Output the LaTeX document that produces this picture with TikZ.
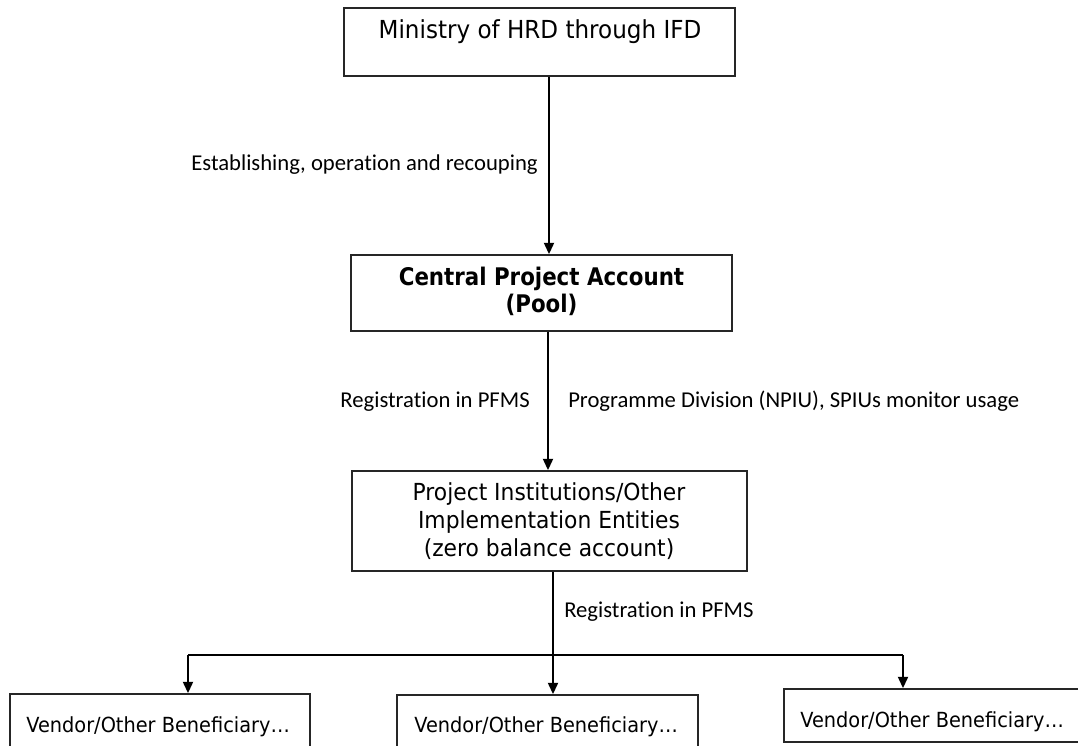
\documentclass[tikz,border=0pt]{standalone}
\usepackage{fontspec}
\setmainfont[Ligatures=NoCommon]{Carlito}
\newfontfamily\boxfont[FakeStretch=0.93,BoldFeatures={FakeStretch=0.88}]{DejaVu Sans}
\usetikzlibrary{arrows.meta}
\begin{document}
\begin{tikzpicture}[x=0.75pt,y=-0.75pt,
  boxshape/.style={draw=black!85,line width=1.3pt,rectangle,inner sep=0pt},
  boxtext/.style={font=\boxfont\fontsize{18.6}{22}\selectfont,inner sep=0pt},
  smalltext/.style={font=\boxfont\fontsize{15.6}{19}\selectfont,inner sep=0pt},
  lbl/.style={font=\fontsize{17}{20}\selectfont,inner sep=0pt},
  arr/.style={line width=1.5pt,-{Triangle[width=7.5pt,length=8.5pt]}},
  plain/.style={line width=1.5pt}]
\useasboundingbox[fill=white] (0,0) rectangle (1078,746);
\begin{scope}
\clip (0,0) rectangle (1078,746);
% boxes
\node[boxshape,minimum width=391*0.75pt,minimum height=68*0.75pt] (b1) at (539.5,42) {};
\node[boxshape,minimum width=381*0.75pt,minimum height=76*0.75pt] (b2) at (541.5,293) {};
\node[boxshape,minimum width=395*0.75pt,minimum height=100*0.75pt] (b3) at (549.5,521) {};
\node[boxshape,minimum width=300*0.75pt,minimum height=90*0.75pt] (v1) at (160,739) {};
\node[boxshape,minimum width=301*0.75pt,minimum height=90*0.75pt] (v2) at (547.5,740) {};
\node[boxshape,minimum width=400*0.75pt,minimum height=53*0.75pt] (v3) at (984,715.5) {};
\end{scope}
% box texts
\node[boxtext,anchor=base] (t1) at (540,38) {Ministry of HRD through IFD};
\node[boxtext,anchor=base,font=\boxfont\bfseries\fontsize{18.2}{22}\selectfont] (t2a) at (541.5,285) {Central Project Account};
\node[boxtext,anchor=base,font=\boxfont\bfseries\fontsize{18.2}{22}\selectfont] (t2b) at (541.5,312) {(Pool)};
\node[boxtext,anchor=base,font=\boxfont\fontsize{17.6}{21}\selectfont] (t3a) at (549,500) {Project Institutions/Other};
\node[boxtext,anchor=base,font=\boxfont\fontsize{17.6}{21}\selectfont] (t3b) at (549,528) {Implementation Entities};
\node[boxtext,anchor=base,font=\boxfont\fontsize{17.6}{21}\selectfont] (t3c) at (549,556) {(zero balance account)};
\node[smalltext,anchor=base west] (tv1) at (26,732) {Vendor/Other Beneficiary\dots};
\node[smalltext,anchor=base west] (tv2) at (414,732) {Vendor/Other Beneficiary\dots};
\node[smalltext,anchor=base west] (tv3) at (800,727) {Vendor/Other Beneficiary\dots};
% labels
\node[lbl,anchor=base east] (l1) at (538,170) {Establishing, operation and recouping};
\node[lbl,anchor=base east] (l2) at (530,407) {Registration in PFMS};
\node[lbl,anchor=base west] (l3) at (568,407) {Programme Division (NPIU), SPIUs monitor usage};
\node[lbl,anchor=base west] (l4) at (564,617) {Registration in PFMS};
% connector helper coordinates
\coordinate (xa) at (549,0);
\coordinate (xb) at (548,0);
\coordinate (xc) at (553,0);
\coordinate (xl) at (188,0);
\coordinate (xr) at (903,0);
\coordinate (hy) at (0,655);
% connectors
\draw[arr] (b1.south -| xa) -- (b2.north -| xa);
\draw[arr] (b2.south -| xb) -- (b3.north -| xb);
\draw[arr] (b3.south -| xc) -- (v2.north -| xc);
\draw[plain] (hy -| xl) -- (hy -| xr);
\draw[arr] (hy -| xl) -- (v1.north -| xl);
\draw[arr] (hy -| xr) -- (v3.north -| xr);
\end{tikzpicture}
\end{document}
